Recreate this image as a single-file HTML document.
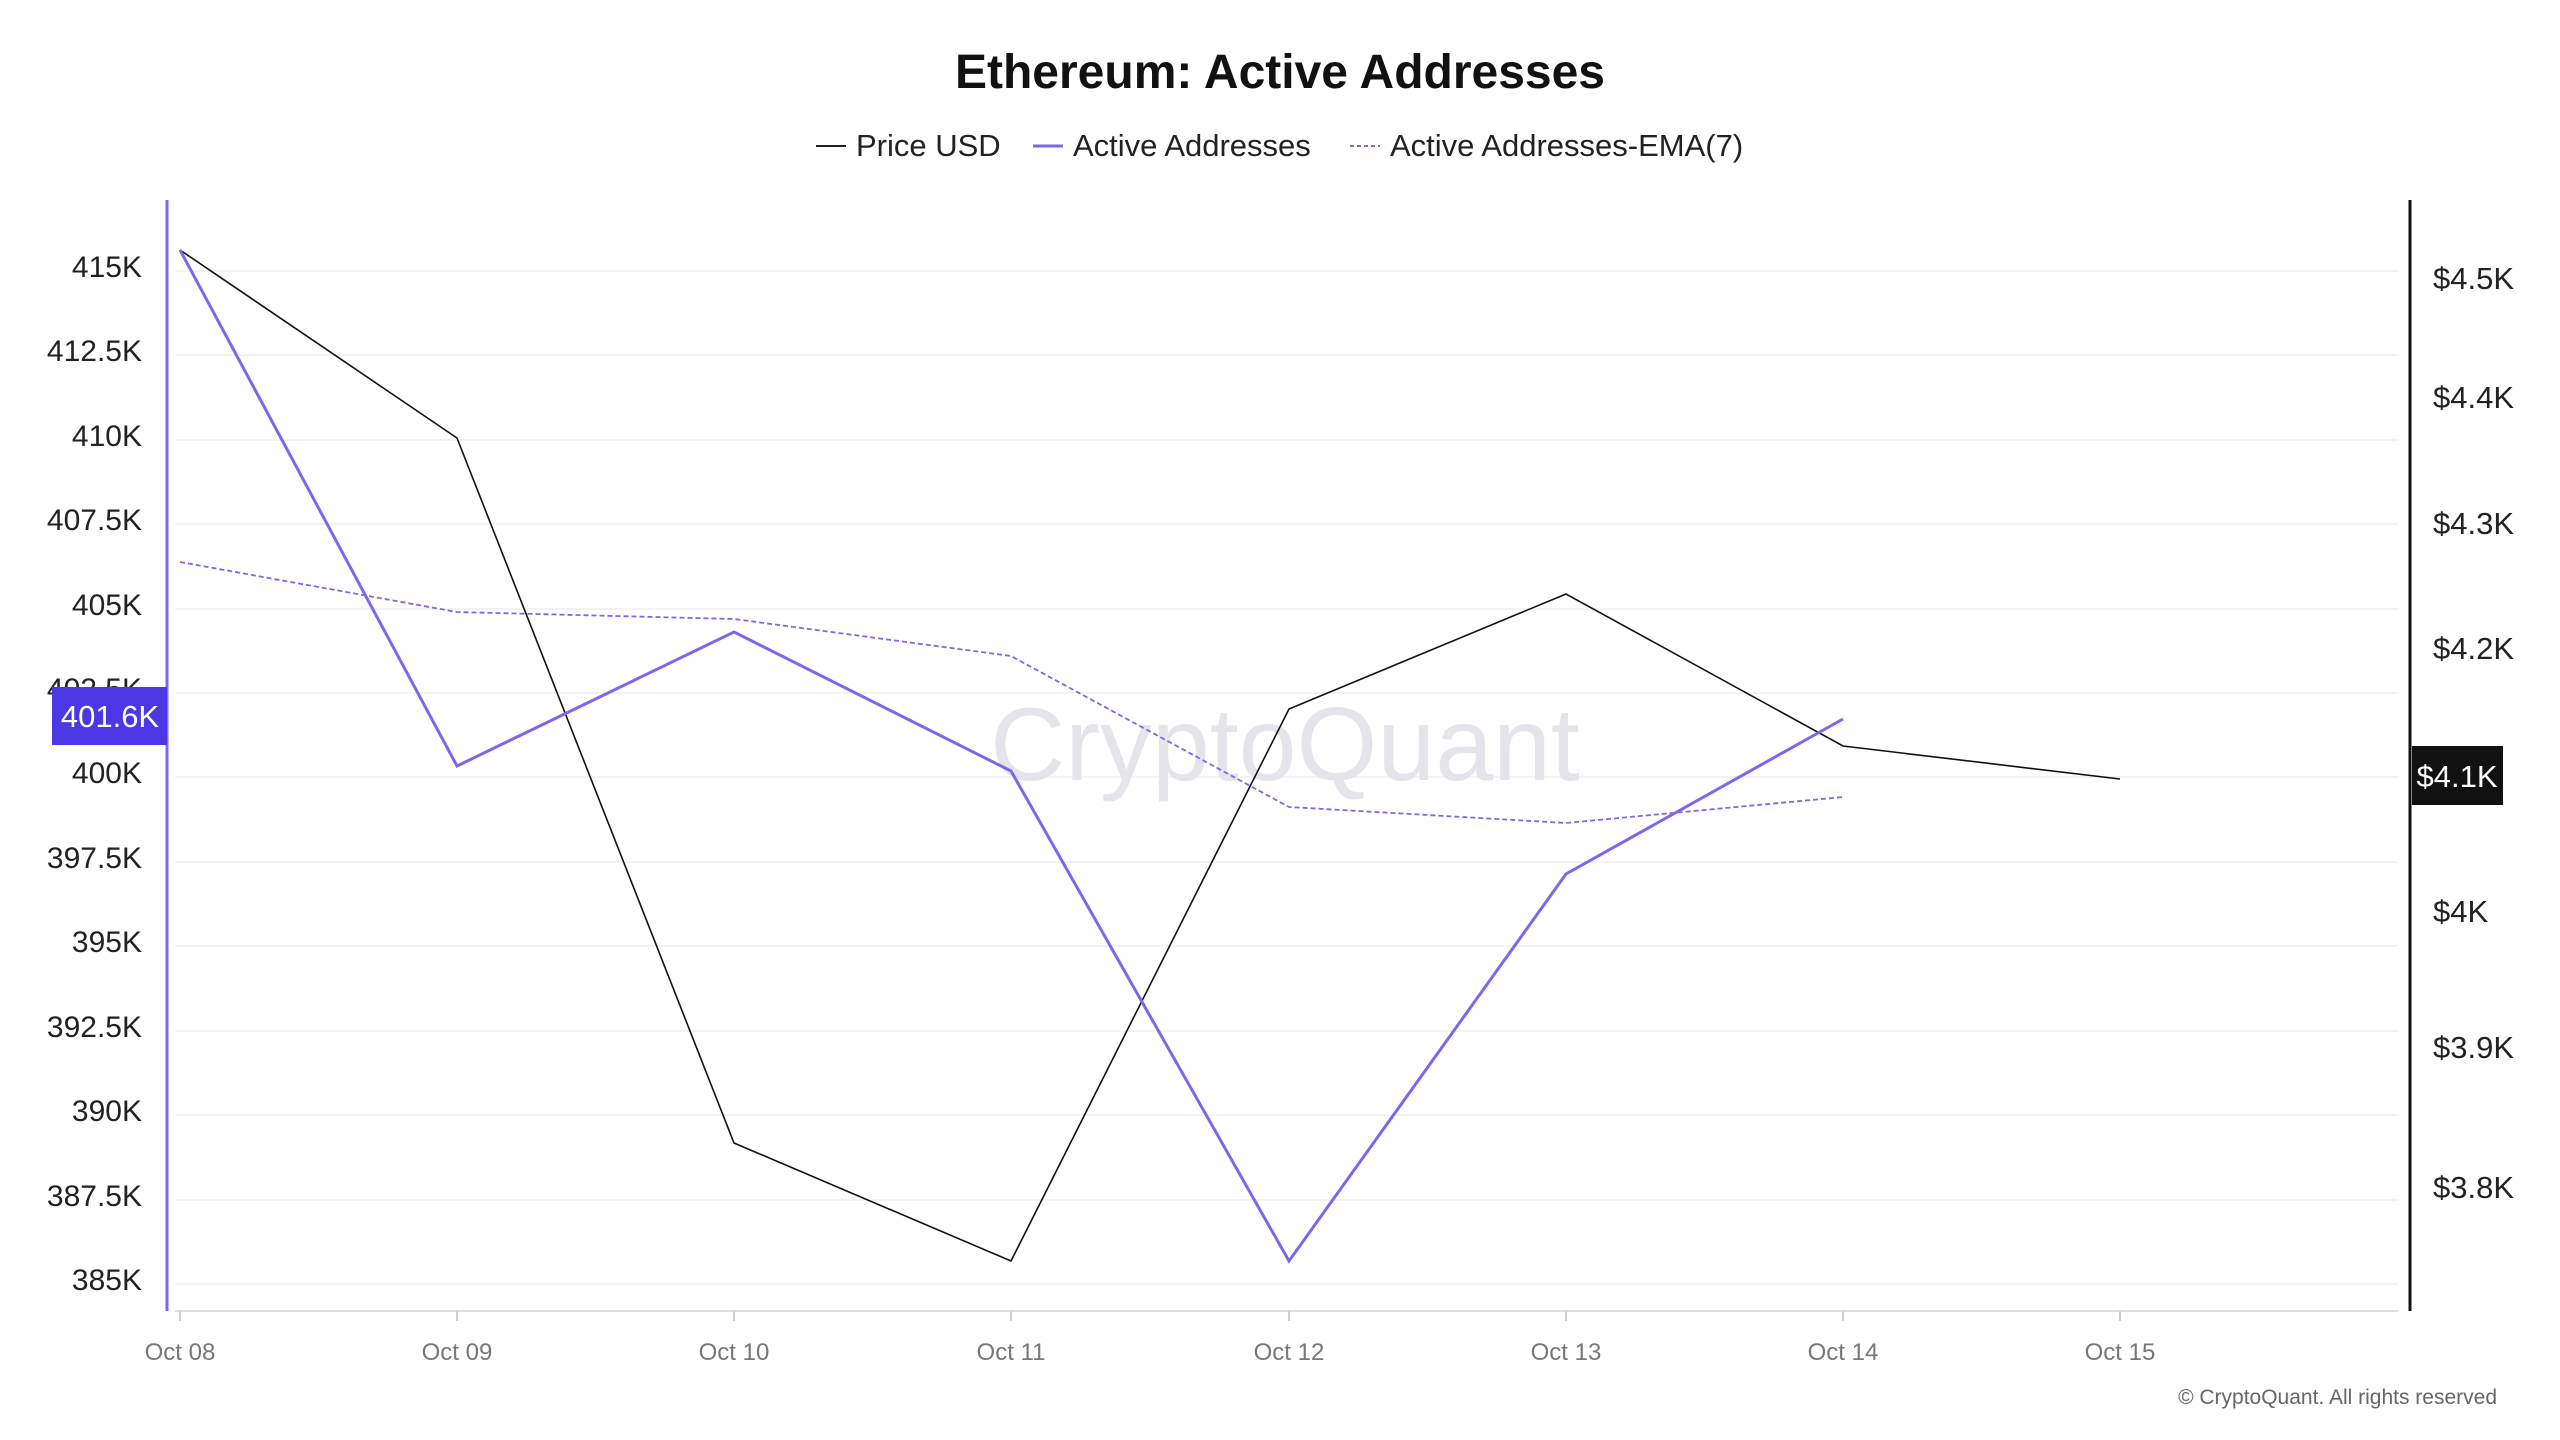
<!DOCTYPE html>
<html><head><meta charset="utf-8"><style>
html,body{margin:0;padding:0;background:#fff;}
svg{display:block;font-family:"Liberation Sans",sans-serif;}
</style></head><body>
<svg width="2560" height="1440" viewBox="0 0 2560 1440" xmlns="http://www.w3.org/2000/svg">
<rect width="2560" height="1440" fill="#fff"/>
<text x="1280" y="88" text-anchor="middle" font-size="48" font-weight="bold" fill="#111">Ethereum: Active Addresses</text>
<g font-size="31" fill="#222">
<line x1="816" y1="146" x2="846" y2="146" stroke="#222" stroke-width="2"/>
<text x="856" y="156">Price USD</text>
<line x1="1033" y1="146" x2="1063" y2="146" stroke="#7b68ee" stroke-width="3"/>
<text x="1073" y="156">Active Addresses</text>
<line x1="1350" y1="146" x2="1380" y2="146" stroke="#7b68ee" stroke-width="2" stroke-dasharray="4,3"/>
<text x="1390" y="156">Active Addresses-EMA(7)</text>
</g>
<g stroke="#f3f3f3" stroke-width="2">
<line x1="175" y1="271" x2="2398" y2="271"/><line x1="175" y1="355" x2="2398" y2="355"/>
<line x1="175" y1="440" x2="2398" y2="440"/><line x1="175" y1="524" x2="2398" y2="524"/>
<line x1="175" y1="609" x2="2398" y2="609"/><line x1="175" y1="693" x2="2398" y2="693"/>
<line x1="175" y1="777" x2="2398" y2="777"/><line x1="175" y1="862" x2="2398" y2="862"/>
<line x1="175" y1="946" x2="2398" y2="946"/><line x1="175" y1="1031" x2="2398" y2="1031"/>
<line x1="175" y1="1115" x2="2398" y2="1115"/><line x1="175" y1="1200" x2="2398" y2="1200"/>
<line x1="175" y1="1284" x2="2398" y2="1284"/>
</g>
<text x="1285" y="780" text-anchor="middle" font-size="104" fill="#e4e4ea">CryptoQuant</text>
<line x1="175" y1="1311" x2="2398" y2="1311" stroke="#ddd" stroke-width="2"/>
<line x1="167" y1="200" x2="167" y2="1311" stroke="#7b68ee" stroke-width="3"/>
<line x1="2410" y1="200" x2="2410" y2="1311" stroke="#111" stroke-width="3"/>
<g font-size="30" fill="#222" text-anchor="end">
<text x="142" y="277">415K</text><text x="142" y="361">412.5K</text><text x="142" y="446">410K</text>
<text x="142" y="530">407.5K</text><text x="142" y="615">405K</text><text x="142" y="699">402.5K</text>
<text x="142" y="783">400K</text><text x="142" y="868">397.5K</text><text x="142" y="952">395K</text>
<text x="142" y="1037">392.5K</text><text x="142" y="1121">390K</text><text x="142" y="1206">387.5K</text>
<text x="142" y="1290">385K</text>
</g>
<g font-size="31" fill="#222">
<text x="2433" y="289">$4.5K</text><text x="2433" y="408">$4.4K</text><text x="2433" y="534">$4.3K</text>
<text x="2433" y="659">$4.2K</text><text x="2433" y="922">$4K</text>
<text x="2433" y="1058">$3.9K</text><text x="2433" y="1198">$3.8K</text>
</g>
<g font-size="24" fill="#777" text-anchor="middle">
<text x="180" y="1360">Oct 08</text><text x="457" y="1360">Oct 09</text><text x="734" y="1360">Oct 10</text>
<text x="1011" y="1360">Oct 11</text><text x="1289" y="1360">Oct 12</text><text x="1566" y="1360">Oct 13</text>
<text x="1843" y="1360">Oct 14</text><text x="2120" y="1360">Oct 15</text>
</g>
<g stroke="#ccc" stroke-width="2">
<line x1="180" y1="1311" x2="180" y2="1321"/><line x1="457" y1="1311" x2="457" y2="1321"/>
<line x1="734" y1="1311" x2="734" y2="1321"/><line x1="1011" y1="1311" x2="1011" y2="1321"/>
<line x1="1289" y1="1311" x2="1289" y2="1321"/><line x1="1566" y1="1311" x2="1566" y2="1321"/>
<line x1="1843" y1="1311" x2="1843" y2="1321"/><line x1="2120" y1="1311" x2="2120" y2="1321"/>
</g>
<polyline fill="none" stroke="#7b68ee" stroke-width="1.8" stroke-dasharray="5,3" points="180,562 457,612 734,619 1011,656 1289,807 1566,823 1843,797"/>
<polyline fill="none" stroke="#111" stroke-width="1.6" points="180,250 457,438 734,1143 1011,1261 1289,709 1566,594 1843,746 2120,779"/>
<polyline fill="none" stroke="#7b68ee" stroke-width="3" points="180,250 457,766 734,632 1011,771 1289,1261 1566,874 1843,719"/>
<rect x="52" y="687" width="115" height="58" fill="#4b37e3"/>
<text x="110" y="727" text-anchor="middle" font-size="31" fill="#fff">401.6K</text>
<rect x="2412" y="746" width="91" height="59" fill="#111"/>
<text x="2457" y="787" text-anchor="middle" font-size="31" fill="#fff">$4.1K</text>
<text x="2497" y="1404" text-anchor="end" font-size="21" fill="#666">© CryptoQuant. All rights reserved</text>
</svg>
</body></html>
